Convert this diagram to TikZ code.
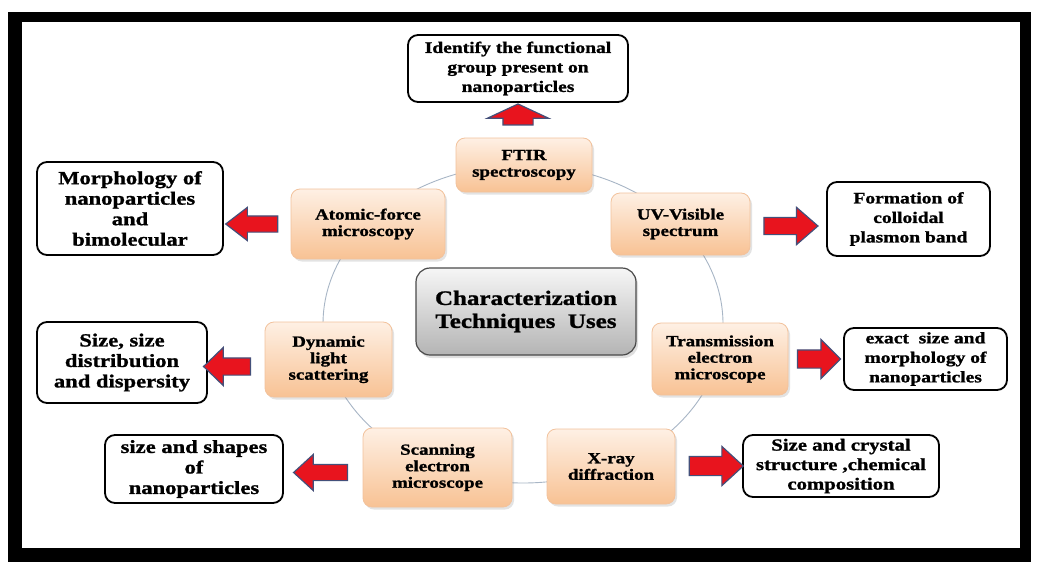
\documentclass[tikz,border=0pt]{standalone}
\usepackage{fontspec}
\newfontfamily\tfont[FakeStretch=1.22,FakeBold=1.2]{Liberation Serif}
\usetikzlibrary{shapes.geometric,shapes.arrows,shadows}
\definecolor{orTop}{HTML}{FEF0E4}
\definecolor{orBot}{HTML}{F8C294}
\definecolor{orEdge}{HTML}{F2C29C}
\definecolor{grTop}{HTML}{F6F6F6}
\definecolor{grBot}{HTML}{B4B4B4}
\definecolor{grEdge}{HTML}{4A4A4A}
\definecolor{arrRed}{HTML}{E8141E}
\definecolor{arrEdge}{HTML}{44507A}
\definecolor{ringc}{HTML}{A8B6C6}
\begin{document}
\begin{tikzpicture}[x=1pt,y=-1pt,
  orange/.style={rounded corners=9pt, top color=orTop, bottom color=orBot,
    draw=orEdge, line width=0.8pt,
    drop shadow={opacity=0.22, shadow xshift=2pt, shadow yshift=-2.5pt},
    align=center, inner sep=0pt,
    font=\tfont\bfseries\fontsize{15.5}{16.5}\selectfont},
  wbox/.style={rounded corners=10pt, draw=black, line width=1.8pt, fill=white,
    align=center, inner sep=0pt},
  wbig/.style={wbox, font=\tfont\bfseries\fontsize{18.5}{20.5}\selectfont},
  wsmall/.style={wbox, font=\tfont\bfseries\fontsize{16}{19.5}\selectfont},
  wmid/.style={wbox, font=\tfont\bfseries\fontsize{17}{19.5}\selectfont},
  cbox/.style={rounded corners=14pt, top color=grTop, bottom color=grBot,
    draw=grEdge, line width=1.2pt,
    drop shadow={opacity=0.25, shadow xshift=2pt, shadow yshift=-3pt},
    align=center, inner sep=0pt,
    font=\tfont\bfseries\fontsize{20.5}{23}\selectfont},
  rarrow/.style={single arrow, draw=arrEdge, fill=arrRed, line width=1.2pt,
    inner sep=0pt, minimum width=0pt, single arrow head indent=0pt},
  ringstyle/.style={ellipse, draw=ringc, line width=0.9pt, inner sep=0pt}
]
\useasboundingbox (0,0) rectangle (1038,562);
\fill[white] (0,0) rectangle (1038,562);
\fill[black] (8,12) rectangle (1031,562);
\fill[white] (22,22) rectangle (1020,548);

% ring
\node[ringstyle, minimum width=400pt, minimum height=318pt] (ring) at (523,324) {};

% central
\node[cbox, minimum width=220pt, minimum height=87pt] (center) at (526,311.5)
  {Characterization\\Techniques~ Uses};

% technique boxes
\node[orange, minimum width=136pt, minimum height=54pt] (ftir) at (524,165) {FTIR\\spectroscopy};
\node[orange, minimum width=154pt, minimum height=70pt] (afm) at (368,224) {Atomic-force\\microscopy};
\node[orange, minimum width=139pt, minimum height=62pt] (uv) at (680.5,224) {UV-Visible\\spectrum};
\node[orange, minimum width=127pt, minimum height=75pt] (dls) at (328.5,359.5) {Dynamic\\light\\scattering};
\node[orange, minimum width=136pt, minimum height=72pt] (tem) at (720,359) {Transmission\\electron\\microscope};
\node[orange, minimum width=149pt, minimum height=79pt] (sem) at (437.5,467.5) {Scanning\\electron\\microscope};
\node[orange, minimum width=128pt, minimum height=75pt] (xrd) at (611,466.5) {X-ray\\diffraction};

% use boxes
\node[wsmall, minimum width=220pt, minimum height=67pt] (id) at (518,68.5)
  {Identify the functional\\group present on\\nanoparticles};
\node[wbig, minimum width=186pt, minimum height=93pt] (morph) at (130,208.5)
  {Morphology of\\nanoparticles\\and\\bimolecular};
\node[wsmall, minimum width=163pt, minimum height=74pt] (form) at (908.5,219)
  {Formation of\\colloidal\\plasmon band};
\node[wbig, minimum width=170pt, minimum height=81pt] (sizes) at (122,362.5)
  {Size, size\\distribution\\and dispersity};
\node[wsmall, minimum width=163pt, minimum height=62pt] (exact) at (925.5,359)
  {exact~ size and\\morphology of\\nanoparticles};
\node[wbig, minimum width=178pt, minimum height=68pt] (shapes) at (194,469)
  {size and shapes\\of\\nanoparticles};
\node[wmid, minimum width=196pt, minimum height=62pt] (crystal) at (841,466)
  {Size and crystal\\structure ,chemical\\composition};

% arrows
\node[rarrow, rotate=90, minimum height=21pt, inner ysep=14.5pt,
  single arrow head extend=15.5pt, single arrow tip angle=130] (a-ftir) at (518,118) {};
\node[rarrow, rotate=180, minimum height=52pt, inner ysep=7.5pt,
  single arrow head extend=8.5pt, single arrow tip angle=75] (a-afm) at (257,224) {};
\node[rarrow, minimum height=54pt, inner ysep=8pt,
  single arrow head extend=10pt, single arrow tip angle=82] (a-uv) at (786,226) {};
\node[rarrow, rotate=180, minimum height=47pt, inner ysep=8pt,
  single arrow head extend=10.5pt, single arrow tip angle=88] (a-dls) at (231.5,366.5) {};
\node[rarrow, rotate=180, minimum height=54pt, inner ysep=7.5pt,
  single arrow head extend=10pt, single arrow tip angle=85] (a-sem) at (325,472.5) {};
\node[rarrow, minimum height=43pt, inner ysep=8.5pt,
  single arrow head extend=10.5pt, single arrow tip angle=90] (a-tem) at (814.5,359) {};
\node[rarrow, minimum height=54pt, inner ysep=9pt,
  single arrow head extend=10pt, single arrow tip angle=85] (a-xrd) at (711,466) {};
\end{tikzpicture}
\end{document}
